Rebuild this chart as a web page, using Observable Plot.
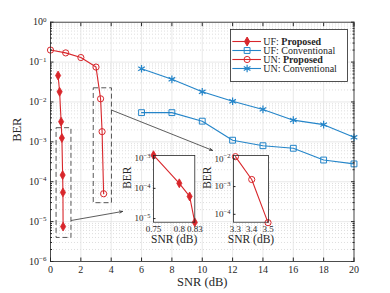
<!DOCTYPE html>
<html><head><meta charset="utf-8">
<script src="https://cdn.jsdelivr.net/npm/d3@7"></script>
<script src="https://cdn.jsdelivr.net/npm/@observablehq/plot@0.6"></script>
<style>
body{margin:0;background:#fff}
#wrap{position:relative;width:390px;height:293px;overflow:hidden}
#wrap svg{position:absolute;overflow:visible}
</style></head><body><div id="wrap"></div>
<script>
// ---- data ----
const ufPropSNR = [0.5, 0.6, 0.7, 0.75, 0.8, 0.82, 0.83];
const ufPropBER = [0.046, 0.018, 0.0032, 0.00125, 0.000147, 0.000054, 0.0000075];
const unPropSNR = [0, 1, 2, 3, 3.3, 3.4, 3.5];
const unPropBER = [0.2, 0.17, 0.13, 0.075, 0.012, 0.0018, 0.00005];
const convSNR = [6, 8, 10, 12, 14, 16, 18, 20];
const ufConvBER = [0.0054, 0.0054, 0.0033, 0.0011, 0.0008, 0.00069, 0.00035, 0.00028];
const unConvBER = [0.068, 0.037, 0.018, 0.0104, 0.0065, 0.0035, 0.0027, 0.0013];
const seriesNames = ["UF: Proposed", "UF: Conventional", "UN: Proposed", "UN: Conventional"];
const xTicks = [0, 2, 4, 6, 8, 10, 12, 14, 16, 18, 20];
const yTicks = [1e-6, 1e-5, 1e-4, 1e-3, 1e-2, 1e-1, 1];
const inset1XTicks = [0.75, 0.8, 0.83];
const inset1YTicks = [1e-5, 1e-4, 1e-3];
const inset1XDomain = [0.75, 0.83];
const inset1YDomain = [7.6e-6, 1.22e-3];
const inset2XTicks = [3.3, 3.4, 3.5];
const inset2YTicks = [1e-4, 1e-3, 1e-2];
const inset2XDomain = [3.288, 3.503];
const inset2YDomain = [5.2e-5, 0.0132];
const zoomBoxes = [
  {x1: 0.4, x2: 1.38, y1: 3.9e-6, y2: 2.2e-3},
  {x1: 2.85, x2: 4.05, y1: 2.9e-5, y2: 0.022}
];
const arrows = [
  {x1: 1.38, y1: 1.07e-5, x2: 4.75, y2: 1.8e-5},
  {x1: 4.05, y1: 6.2e-3, x2: 10.68, y2: 6.1e-4}
];

// ---- styles ----
const RED = "#d8262b", BLUE = "#2485c9", AX = "#262626";
const FONT = "Liberation Serif, DejaVu Serif, serif";

const rows = (xs, ys) => xs.map((x, i) => ({x, y: ys[i]}));
const ufProp = rows(ufPropSNR, ufPropBER);
const unProp = rows(unPropSNR, unPropBER);
const ufConv = rows(convSNR, ufConvBER);
const unConv = rows(convSNR, unConvBER);
const minorY = [];
for (let e = -6; e < 0; e++) for (let k = 2; k <= 9; k++) minorY.push(k * Math.pow(10, e));
const logFmt = d => "10^" + Math.round(Math.log10(d));

const wrap = document.getElementById("wrap");
function place(svg, left, top) {
  svg.style.left = left + "px"; svg.style.top = top + "px";
  wrap.appendChild(svg);
}
function supers(svg, size) {
  svg.querySelectorAll("text").forEach(t => {
    const m = t.textContent.match(/^10\^(-?\d+)$/);
    if (!m) return;
    t.textContent = "";
    const a = document.createElementNS("http://www.w3.org/2000/svg", "tspan");
    a.textContent = "10";
    const b = document.createElementNS("http://www.w3.org/2000/svg", "tspan");
    b.textContent = m[1].replace("-", "\u2212");
    b.setAttribute("dy", "-0.5em");
    b.setAttribute("font-size", size);
    t.appendChild(a); t.appendChild(b);
  });
}

// ---- main chart ----
const main = Plot.plot({
  width: 390, height: 293,
  marginLeft: 50, marginRight: 36.5, marginTop: 21.7, marginBottom: 32,
  style: {fontFamily: FONT, fontSize: "10px", background: "white", color: AX},
  x: {domain: [0, 20]},
  y: {type: "log", domain: [1e-6, 1]},
  marks: [
    Plot.gridY({ticks: minorY, stroke: "#c8c8c8", strokeOpacity: 1, strokeDasharray: "1,2", strokeWidth: 0.6}),
    Plot.gridY({ticks: yTicks, stroke: "#e3e3e3", strokeOpacity: 1, strokeWidth: 0.8}),
    Plot.gridX({ticks: xTicks, stroke: "#e3e3e3", strokeOpacity: 1, strokeWidth: 0.8}),
    Plot.rect(zoomBoxes, {x1: "x1", x2: "x2", y1: "y1", y2: "y2", fill: "none", stroke: "#444", strokeWidth: 0.9, strokeDasharray: "5,3"}),
    Plot.line(ufConv, {x: "x", y: "y", stroke: BLUE, strokeWidth: 1.1}),
    Plot.line(unConv, {x: "x", y: "y", stroke: BLUE, strokeWidth: 1.1}),
    Plot.dot(ufConv, {x: "x", y: "y", symbol: "square", fill: "none", stroke: BLUE, strokeWidth: 1, r: 3.3}),
    Plot.dot(unConv, {x: "x", y: "y", symbol: "asterisk", stroke: BLUE, strokeWidth: 1.2, r: 3.6}),
    Plot.line(ufProp, {x: "x", y: "y", stroke: RED, strokeWidth: 1.1}),
    Plot.line(unProp, {x: "x", y: "y", stroke: RED, strokeWidth: 1.1}),
    Plot.dot(ufProp, {x: "x", y: "y", symbol: "diamond", fill: RED, stroke: RED, strokeWidth: 0.8, r: 2.7}),
    Plot.dot(unProp, {x: "x", y: "y", symbol: "circle", fill: "none", stroke: RED, strokeWidth: 1, r: 3.1}),
    Plot.arrow(arrows, {x1: "x1", y1: "y1", x2: "x2", y2: "y2", stroke: "#333", strokeWidth: 0.8, headLength: 6, headAngle: 40}),
    Plot.frame({stroke: AX, strokeWidth: 0.8}),
    Plot.axisX({ticks: xTicks, tickSize: 0, tickPadding: 4.5, label: null, fontSize: 10}),
    Plot.axisX({ticks: xTicks, tickSize: -3.5, tickFormat: () => "", label: null}),
    Plot.axisX({anchor: "top", ticks: xTicks, tickSize: -3.5, tickFormat: () => "", label: null}),
    Plot.axisY({ticks: yTicks, tickSize: 0, tickPadding: 4, tickFormat: logFmt, label: null, fontSize: 10}),
    Plot.axisY({ticks: yTicks, tickSize: -3.5, tickFormat: () => "", label: null}),
    Plot.axisY({ticks: minorY, tickSize: -2, tickFormat: () => "", label: null}),
    Plot.axisY({anchor: "right", ticks: yTicks, tickSize: -3.5, tickFormat: () => "", label: null}),
    Plot.axisY({anchor: "right", ticks: minorY, tickSize: -2, tickFormat: () => "", label: null}),
    Plot.text(["SNR (dB)"], {frameAnchor: "bottom", dy: 24, fontSize: 12.5, fill: AX}),
    Plot.text(["BER"], {frameAnchor: "left", dx: -34, rotate: -90, fontSize: 12.5, fill: AX})
  ]
});
supers(main, "7px");
place(main, 0, 0);

// ---- legend ----
const legendRows = [
  {name: seriesNames[0], color: RED, sym: "diamond", fill: RED},
  {name: seriesNames[1], color: BLUE, sym: "square", fill: "none"},
  {name: seriesNames[2], color: RED, sym: "circle", fill: "none"},
  {name: seriesNames[3], color: BLUE, sym: "asterisk", fill: "none"}
];
const legend = Plot.plot({
  width: 117, height: 52, margin: 0,
  style: {fontFamily: FONT, fontSize: "10px", background: "transparent", color: AX},
  x: {domain: [0, 1], axis: null},
  y: {type: "point", domain: seriesNames, range: [7.3, 44.2], axis: null},
  marks: [
    Plot.frame({fill: "white", stroke: AX, strokeWidth: 0.8}),
    Plot.ruleY(legendRows, {y: "name", x1: () => 0.02, x2: () => 0.265, stroke: d => d.color, strokeWidth: 1.1}),
    ...legendRows.map(d => Plot.dot([d], {x: () => 0.142, y: "name", symbol: d.sym, fill: d.fill, stroke: d.color,
      r: d.sym === "diamond" ? 2.7 : d.sym === "square" ? 3.3 : d.sym === "asterisk" ? 3.6 : 3.1, strokeWidth: d.sym === "asterisk" ? 1.2 : 1})),
    Plot.text(legendRows, {x: () => 0.28, y: "name", text: "name", textAnchor: "start", fill: AX})
  ]
});
legend.querySelectorAll("text").forEach(t => {
  const m = t.textContent.match(/^(\w+: )(Proposed)$/);
  if (!m) return;
  t.textContent = m[1];
  const b = document.createElementNS("http://www.w3.org/2000/svg", "tspan");
  b.textContent = m[2]; b.setAttribute("font-weight", "bold");
  t.appendChild(b);
});
place(legend, 230, 29);

// ---- insets ----
function inset(data, symbol, r, xDomain, yDomain, xT, yT, plotW) {
  const pts = data.filter(d => d.x >= xDomain[0] - 1e-9 && d.x <= xDomain[1] + 1e-9);
  return Plot.plot({
    width: 34 + plotW + 6, height: 4 + 66.7 + 26,
    marginLeft: 34, marginRight: 6, marginTop: 4, marginBottom: 26,
    style: {fontFamily: FONT, fontSize: "9px", background: "transparent", color: AX},
    x: {domain: xDomain},
    y: {type: "log", domain: yDomain},
    marks: [
      Plot.frame({fill: "white", stroke: "none"}),
      Plot.line(pts, {x: "x", y: "y", stroke: RED, strokeWidth: 1.1}),
      Plot.dot(pts, {x: "x", y: "y", symbol, fill: symbol === "diamond" ? RED : "none", stroke: RED, strokeWidth: symbol === "diamond" ? 0.8 : 1, r}),
      Plot.frame({stroke: AX, strokeWidth: 0.8}),
      Plot.axisX({ticks: xT, tickSize: 0, tickPadding: 3, label: null, tickFormat: d => String(d)}),
      Plot.axisY({ticks: yT, tickSize: 0, tickPadding: 3, tickFormat: logFmt, label: null}),
      Plot.axisY({ticks: yT, tickSize: -2.5, tickFormat: () => "", label: null}),
      Plot.text(["SNR (dB)"], {frameAnchor: "bottom", dy: 20.5, fontSize: 11.5, fill: AX}),
      Plot.text(["BER"], {frameAnchor: "left", dx: -26, rotate: -90, fontSize: 11.5, fill: AX})
    ]
  });
}
const in1 = inset(ufProp, "diamond", 2.7, inset1XDomain, inset1YDomain, inset1XTicks, inset1YTicks, 41.3);
supers(in1, "6.5px");
place(in1, 152.7 - 34, 151);
const in2 = inset(unProp, "circle", 3.1, inset2XDomain, inset2YDomain, inset2XTicks, inset2YTicks, 35);
supers(in2, "6.5px");
place(in2, 233.3 - 34, 151);
</script></body></html>
